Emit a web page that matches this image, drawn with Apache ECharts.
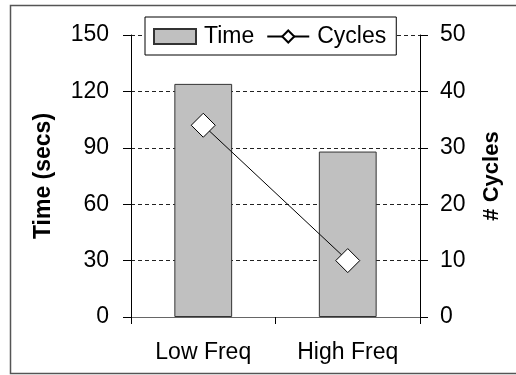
<!DOCTYPE html>
<html>
<head>
<meta charset="utf-8">
<script src="https://cdn.jsdelivr.net/npm/echarts@6/dist/echarts.min.js"></script>
<style>
  html, body { margin: 0; padding: 0; background: #fff; }
  #chart { width: 516px; height: 375px; }
</style>
</head>
<body>
<div id="chart"></div>
<script>
// Run time and cycle count for the two frequency settings
const categories = ['Low Freq', 'High Freq'];
const timeSecs = [124, 88];
const cycles = [34, 10];

const FONT = '"Liberation Sans", Arial, sans-serif';

const chart = echarts.init(document.getElementById('chart'), null, { renderer: 'canvas' });

chart.setOption({
  backgroundColor: '#ffffff',
  animation: false,
  textStyle: { fontFamily: FONT, color: '#000' },
  graphic: [{
    type: 'rect',
    shape: { x: 10.5, y: 5.5, width: 520, height: 368 },
    style: { fill: 'none', stroke: '#555', lineWidth: 1.5 },
    silent: true,
    z: -1
  }],
  legend: {
    left: 145,
    top: 17,
    padding: [8, 10, 7, 8],
    itemGap: 12,
    itemWidth: 42,
    itemHeight: 15,
    borderColor: '#000',
    borderWidth: 1,
    backgroundColor: '#fff',
    textStyle: { fontFamily: FONT, fontSize: 23, color: '#000', padding: [0, 0, 0, 3] },
    data: [
      { name: 'Time', icon: 'rect' },
      { name: 'Cycles' }
    ]
  },
  grid: { left: 131, right: 96, top: 35, bottom: 58, containLabel: false },
  xAxis: [
    {
      type: 'category',
      data: categories,
      boundaryGap: true,
      axisLine: { lineStyle: { color: '#000', width: 1 } },
      axisTick: { show: true, length: 7, inside: false, lineStyle: { color: '#000' } },
      axisLabel: { fontFamily: FONT, fontSize: 23, color: '#000', margin: 24 },
      splitLine: { show: false }
    },
    {
      // plot-area top edge
      type: 'category',
      data: categories,
      position: 'top',
      axisLine: { show: true, lineStyle: { color: '#666', width: 1 } },
      axisTick: { show: false },
      axisLabel: { show: false },
      splitLine: { show: false }
    }
  ],
  yAxis: [
    {
      type: 'value',
      min: 0, max: 150, interval: 30,
      position: 'left',
      name: 'Time (secs)',
      nameLocation: 'middle',
      nameRotate: 90,
      nameGap: 76,
      nameTextStyle: { fontFamily: FONT, fontSize: 23, fontWeight: 'bold', color: '#000' },
      axisLine: { show: true, lineStyle: { color: '#000', width: 1 } },
      axisTick: { show: true, length: 8, lineStyle: { color: '#000' } },
      axisLabel: { fontFamily: FONT, fontSize: 23, color: '#000', margin: 22 },
      splitLine: { show: true, lineStyle: { color: '#222', type: [4, 3], width: 1 } }
    },
    {
      type: 'value',
      min: 0, max: 50, interval: 10,
      position: 'right',
      name: '# Cycles',
      nameLocation: 'middle',
      nameRotate: 90,
      nameGap: 61,
      nameTextStyle: { fontFamily: FONT, fontSize: 22, fontWeight: 'bold', color: '#000' },
      axisLine: { show: true, lineStyle: { color: '#000', width: 1 } },
      axisTick: { show: true, length: 8, lineStyle: { color: '#000' } },
      axisLabel: { fontFamily: FONT, fontSize: 23, color: '#000', margin: 20 },
      splitLine: { show: false }
    }
  ],
  series: [
    {
      name: 'Time',
      type: 'bar',
      yAxisIndex: 0,
      data: timeSecs,
      barWidth: '40%',
      itemStyle: { color: '#c0c0c0', borderColor: '#333', borderWidth: 1 },
      z: 2
    },
    {
      name: 'Cycles',
      type: 'line',
      yAxisIndex: 1,
      data: cycles,
      symbol: 'diamond',
      symbolSize: 24,
      lineStyle: { color: '#000', width: 1 },
      itemStyle: { color: '#fff', borderColor: '#000', borderWidth: 1 },
      z: 3
    }
  ]
});
</script>
</body>
</html>
